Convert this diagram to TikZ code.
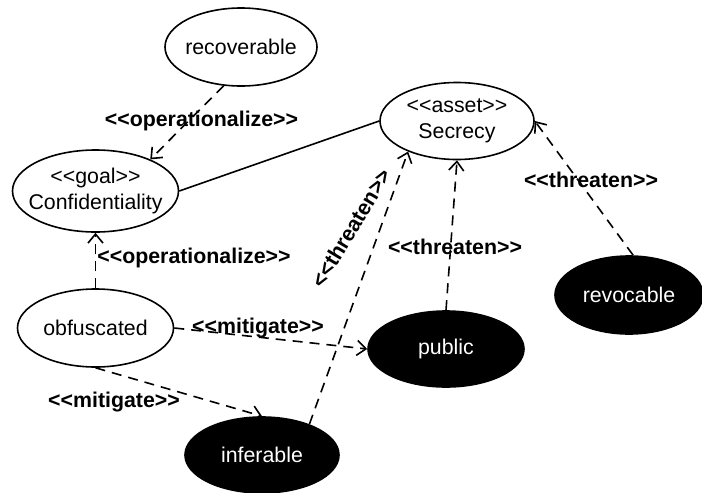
\documentclass[tikz,border=0pt]{standalone}
\usepackage{fontspec}
\setmainfont{Liberation Sans}[Ligatures=TeXOff]
\usetikzlibrary{shapes.geometric,arrows.meta}
\begin{document}
\begin{tikzpicture}[x=1pt,y=-1pt,
  usecase/.style={ellipse, draw=black, line width=1.6pt, inner sep=0pt, fill=white},
  darkcase/.style={usecase, fill=black},
  txt/.style={font=\fontsize{21.33}{26}\selectfont, align=center, inner sep=0pt},
  wtxt/.style={txt, text=white},
  stereo/.style={font=\fontsize{21.33}{26}\selectfont\bfseries, inner sep=0pt, anchor=base},
  dep/.style={line width=1.6pt, dash pattern=on 10pt off 7pt,
    -{Straight Barb[length=9pt,width=15pt,line width=1.6pt]}},
  assoc/.style={line width=1.6pt}]

\useasboundingbox (0,0) rectangle (702,493);

% use cases
\node[usecase, minimum width=152pt, minimum height=78pt,
      label={[txt]center:recoverable}] (rec) at (241,47) {};
\node[usecase, minimum width=166pt, minimum height=82pt,
      label={[txt]center:{<<goal>>\\Confidentiality}}] (conf) at (95.5,191) {};
\node[usecase, minimum width=154pt, minimum height=77pt,
      label={[txt]center:{<<asset>>\\Secrecy}}] (sec) at (457,121) {};
\node[usecase, minimum width=156pt, minimum height=78pt,
      label={[txt]center:obfuscated}] (obf) at (95.5,328) {};

% misuse cases
\node[darkcase, minimum width=154pt, minimum height=76pt,
      label={[wtxt]center:inferable}] (inf) at (262,455) {};
\node[darkcase, minimum width=156pt, minimum height=76pt,
      label={[wtxt]center:public}] (pub) at (446,349) {};
\node[darkcase, minimum width=148pt, minimum height=78pt,
      label={[wtxt]center:revocable}] (rev) at (629,295) {};

% relations
\draw[dep] (rec.246) -- (conf.30);
\draw[assoc] (conf.0) -- (sec.180);
\draw[dep] (obf.north) -- (conf.south);
\draw[dep] (obf.east) -- (pub.west);
\draw[dep] (obf.south) -- (inf.north);
\draw[dep] (inf.33) -- (sec.212);
\draw[dep] (pub.north) -- (sec.south);
\draw[dep] (rev.84) -- (sec.east);

% stereotype labels
\node[stereo] (l-op1) at (201.5,126) {<<operationalize>>};
\node[stereo] (l-op2) at (194,263) {<<operationalize>>};
\node[stereo] (l-mit1) at (258,333) {<<mitigate>>};
\node[stereo] (l-mit2) at (114,407) {<<mitigate>>};
\node[stereo, anchor=center, rotate=59] (l-thr1) at (351,228) {<<threaten>>};
\node[stereo] (l-thr2) at (455,254) {<<threaten>>};
\node[stereo] (l-thr3) at (591,187) {<<threaten>>};
\end{tikzpicture}
\end{document}
